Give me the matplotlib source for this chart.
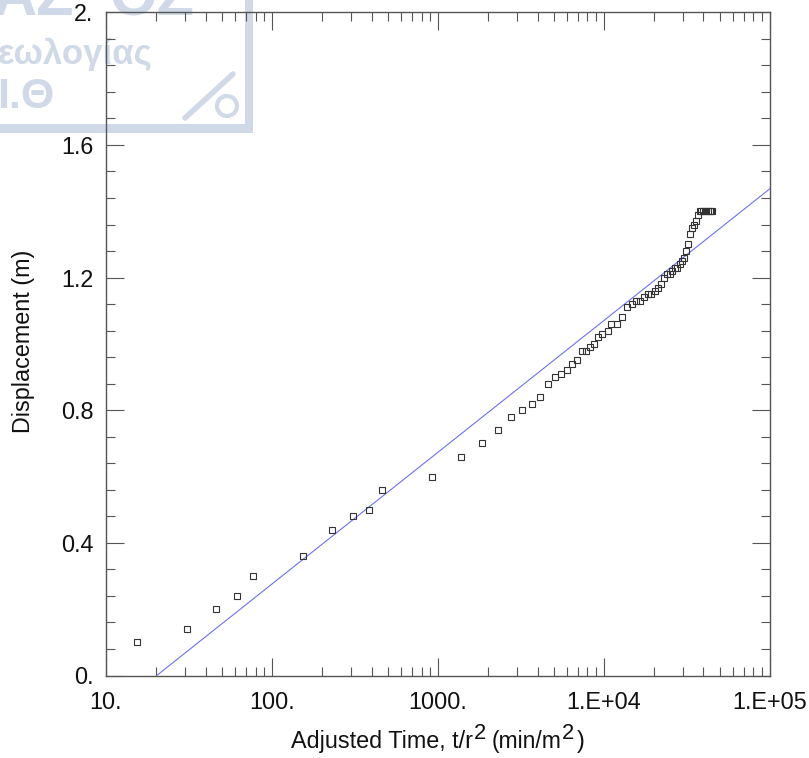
import matplotlib
matplotlib.use('Agg')
import matplotlib.pyplot as plt
from matplotlib.patches import Circle, Rectangle
from matplotlib.ticker import FixedLocator, NullFormatter

plt.rcParams['font.family'] = ['Liberation Sans', 'DejaVu Sans']

# adjusted time t/r^2 (min/m^2) and displacement (m)
adj_time = [15.4, 30.9, 46.3, 61.7, 77.2, 154, 231, 309, 386, 463, 926, 1389, 1852, 2315, 2778,
            3241, 3704, 4167, 4630, 5093, 5556, 6019, 6481, 6944, 7407, 7870, 8333, 8796, 9259,
            9722, 10648, 11111, 11970, 12880, 13889, 14815, 15741, 16667, 17593, 18519, 19444,
            20370, 21296, 22222, 23148, 24074, 25000, 25926, 26852, 27778, 28704, 29630, 30556,
            31481, 32407, 33333, 34259, 35185, 36111, 37037, 37963, 38889, 39815, 40741, 41667,
            42593, 43519, 44444, 45000]
displacement = [0.10, 0.14, 0.20, 0.24, 0.30, 0.36, 0.44, 0.48, 0.50, 0.56, 0.60, 0.66, 0.70, 0.74, 0.78,
                0.80, 0.82, 0.84, 0.88, 0.90, 0.91, 0.92, 0.94, 0.95, 0.98, 0.98, 0.99, 1.00, 1.02,
                1.03, 1.04, 1.06, 1.06, 1.08, 1.11, 1.12, 1.13, 1.13, 1.14, 1.15, 1.15,
                1.16, 1.17, 1.18, 1.20, 1.21, 1.21, 1.22, 1.23, 1.23, 1.24, 1.25, 1.26,
                1.28, 1.30, 1.33, 1.35, 1.36, 1.37, 1.39, 1.40, 1.40, 1.40, 1.40, 1.40,
                1.40, 1.40, 1.40, 1.40]

# fitted straight line (on the log axis)
fit_time = [20.3, 100000]
fit_disp = [0.0, 1.467]

xtick_pos = [10, 100, 1000, 10000, 100000]
xtick_labels = ['10.', '100.', '1000.', '1.E+04', '1.E+05']
ytick_pos = [0, 0.4, 0.8, 1.2, 1.6, 2.0]
ytick_labels = ['0.', '0.4', '0.8', '1.2', '1.6', '2.']

W, H = 809, 758
fig = plt.figure(figsize=(W / 100, H / 100), dpi=100)

# watermark sits behind everything, drawn in pixel coords
wm = fig.add_axes([0, 0, 1, 1], zorder=0)
wm.set_xlim(0, W)
wm.set_ylim(H, 0)
wm.axis('off')
wm_col = '#cfd9e8'
wm.add_patch(Rectangle((-5, 124), 258, 9, color=wm_col, lw=0))
wm.add_patch(Rectangle((245, -5), 8, 138, color=wm_col, lw=0))
wm.plot([185, 233], [118, 74], color=wm_col, lw=4, solid_capstyle='round')
wm.add_patch(Circle((227, 106), 10, fc='none', ec=wm_col, lw=3))
wm.text(-8, 15, 'ΑΖ', fontsize=44, fontweight='bold', color=wm_col, va='baseline')
wm.text(110, 15, 'ΟΖ', fontsize=44, fontweight='bold', color=wm_col, va='baseline')
wm.text(-2, 64, 'εωλογίας', fontsize=25, fontweight='bold', color=wm_col, va='baseline')
wm.text(-3, 108, 'Ι.Θ', fontsize=31, fontweight='bold', color=wm_col, va='baseline')

ax = fig.add_axes([105.7 / W, 1 - 675.5 / H, (769.5 - 105.7) / W, (675.5 - 12.3) / H], zorder=1)
ax.patch.set_alpha(0)
ax.set_xscale('log')
ax.set_xlim(10, 100000)
ax.set_ylim(0, 2)

ax.plot(fit_time, fit_disp, color='#6f6ff5', lw=0.8)
ax.plot(adj_time, displacement, ls='none', marker='s', ms=4.6, mfc='none', mec='#333333', mew=0.8, clip_on=False)

ax.xaxis.set_major_locator(FixedLocator(xtick_pos))
ax.set_xticklabels(xtick_labels)
ax.xaxis.set_minor_locator(FixedLocator([m * 10 ** e for e in range(1, 5) for m in range(2, 10)]))
ax.xaxis.set_minor_formatter(NullFormatter())
ax.yaxis.set_major_locator(FixedLocator(ytick_pos))
ax.set_yticklabels(ytick_labels)
ax.yaxis.set_minor_locator(FixedLocator([0.08 * i for i in range(1, 25) if i % 5 != 0]))

ax.tick_params(which='major', direction='in', top=True, right=True, length=13, width=0.8, color='#555555',
               labelsize=16.8, pad=11, labelcolor='#111111')
ax.tick_params(which='minor', direction='in', top=True, right=True, length=6.5, width=0.8, color='#555555')
ax.tick_params(axis='y', which='major', pad=9)
for s in ax.spines.values():
    s.set_color('#555555')
    s.set_linewidth(1.0)

# labels on white, the original covered the watermark there
for lab in ax.get_yticklabels():
    lab.set_bbox(dict(fc='white', ec='none', pad=1))

ax.set_ylabel('Displacement (m)', fontsize=16.8, color='#111111')
ax.yaxis.set_label_coords((35 - 105.7) / (769.5 - 105.7), (675.5 - 341.5) / (675.5 - 12.3))

# label pieces: superscripts are nearly full size in the original, mathtext shrinks them too much
base = 748
wm.text(291, base, 'Adjusted Time, t/r', fontsize=16.8, color='#111111', va='baseline', zorder=5)
wm.text(474, base - 9, '2', fontsize=15.8, color='#111111', va='baseline', zorder=5)
wm.text(492, base, '(min/m', fontsize=16.5, color='#111111', va='baseline', zorder=5)
wm.text(562, base - 9, '2', fontsize=15.8, color='#111111', va='baseline', zorder=5)
wm.text(577, base, ')', fontsize=16.8, color='#111111', va='baseline', zorder=5)

fig.savefig('out.png', dpi=100)
